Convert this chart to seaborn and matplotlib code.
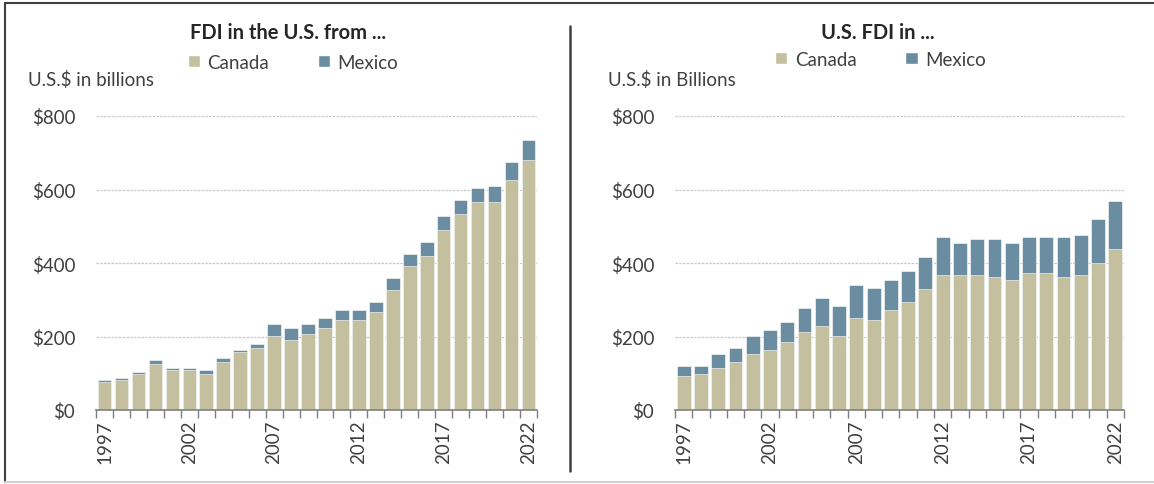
import pandas as pd
import matplotlib.pyplot as plt
import seaborn as sns
from matplotlib.patches import Patch
from matplotlib.lines import Line2D

# years on the x axis
years = [str(y) for y in range(1997, 2023)]

# FDI in the U.S. from ... (billions of US$)
inUS_canada = [76, 82, 98, 125, 109, 109, 98, 131, 158, 169, 201, 190, 207,
               223, 245, 245, 267, 327, 392, 419, 490, 533, 566, 566, 626, 680]
inUS_mexico = [6, 5, 5, 11, 5, 5, 11, 11, 5, 11, 33, 33, 27,
               27, 27, 27, 27, 32, 32, 38, 38, 39, 38, 44, 50, 56]

# U.S. FDI in ... (billions of US$)
usIn_canada = [92, 97, 114, 130, 152, 163, 185, 213, 229, 202, 251, 245, 273,
               295, 328, 366, 366, 366, 361, 355, 372, 372, 361, 366, 399, 438]
usIn_mexico = [27, 22, 38, 39, 50, 55, 55, 65, 77, 82, 88, 88, 82,
               82, 88, 105, 88, 99, 104, 99, 99, 99, 110, 110, 121, 132]

yticks = [0, 200, 400, 600, 800]
ytickLabels = ['$0', '$200', '$400', '$600', '$800']
xLabelYears = ['1997', '2002', '2007', '2012', '2017', '2022']

canadaColor = '#C4BF9F'
mexicoColor = '#6A8DA1'
textColor = '#404040'

sns.set_theme(style='white')
plt.rcParams['font.family'] = ['Lato', 'DejaVu Sans']


def drawPanel(fig, rect, canada, mexico, title, ylabelText, titleX, legendX, legendY, ylabelX):
    ax = fig.add_axes(rect)
    df = pd.DataFrame({'year': years, 'Canada': canada, 'Mexico': mexico})
    df['total'] = df['Canada'] + df['Mexico']

    sns.barplot(data=df, x='year', y='total', order=years, color=mexicoColor,
                width=0.8, saturation=1, edgecolor='white', linewidth=0.4, ax=ax)
    sns.barplot(data=df, x='year', y='Canada', order=years, color=canadaColor,
                width=0.8, saturation=1, edgecolor='white', linewidth=0.4, ax=ax)

    ax.set_xlim(-0.5, len(years) - 0.5)
    ax.set_ylim(0, 800)
    ax.set_yticks(yticks)
    ax.set_yticklabels(ytickLabels, fontsize=13.5, color=textColor)
    ax.tick_params(axis='y', length=0, pad=15)
    for y in yticks[1:]:
        ax.axhline(y, color='#c8c8c8', lw=0.9, ls=(0, (2, 1)), zorder=0)

    ax.set_xticks([years.index(y) for y in xLabelYears])
    ax.set_xticklabels(xLabelYears, rotation=90, fontsize=13.5, color=textColor)
    ax.set_xticks([i - 0.5 for i in range(len(years) + 1)], minor=True)
    ax.tick_params(axis='x', which='major', length=0, pad=7)
    ax.tick_params(axis='x', which='minor', length=6, width=1, color='#7f7f7f',
                   direction='out', bottom=True)
    for s in ['top', 'right', 'left']:
        ax.spines[s].set_visible(False)
    ax.spines['bottom'].set_color('#7f7f7f')
    ax.spines['bottom'].set_linewidth(1.2)
    ax.set_xlabel('')
    ax.set_ylabel('')

    fig.text(titleX, 0.932, title, ha='center', va='center', fontsize=14.5,
             fontweight='bold', color='#262626')
    fig.text(ylabelX, 0.835, ylabelText, ha='left', va='center', fontsize=13.5,
             color=textColor)
    handles = [Patch(facecolor=canadaColor, label='Canada'),
               Patch(facecolor=mexicoColor, label='Mexico')]
    fig.legend(handles=handles, loc='center', bbox_to_anchor=(legendX, legendY),
               ncol=2, frameon=False, fontsize=13.5, handlelength=0.65,
               handleheight=0.65, handletextpad=0.4, columnspacing=2.6,
               labelcolor=textColor)
    return ax


fig = plt.figure(figsize=(11.54, 4.85), dpi=100)

drawPanel(fig, [96 / 1154, 1 - 411 / 485, 441 / 1154, 294 / 485],
          inUS_canada, inUS_mexico, 'FDI in the U.S. from ...', 'U.S.$ in billions',
          0.2496, 0.254, 0.870, 28 / 1154)
drawPanel(fig, [675 / 1154, 1 - 411 / 485, 449 / 1154, 294 / 485],
          usIn_canada, usIn_mexico, 'U.S. FDI in ...', 'U.S.$ in Billions',
          0.761, 0.763, 0.876, 608 / 1154)

# separator and frame lines
fig.add_artist(Line2D([570 / 1154, 570 / 1154], [1 - 27 / 485, 1 - 472 / 485],
                      color='#404040', lw=1.8))
fig.add_artist(Line2D([5 / 1154, 1], [1 - 4 / 485, 1 - 4 / 485], color='#404040', lw=1.5))
fig.add_artist(Line2D([5 / 1154, 5 / 1154], [1 - 4 / 485, 1 - 483 / 485], color='#404040', lw=1.5))
fig.add_artist(Line2D([5 / 1154, 1], [1 - 483 / 485, 1 - 483 / 485], color='#d0d0d0', lw=1.5))

plt.savefig('out.png', dpi=100)
